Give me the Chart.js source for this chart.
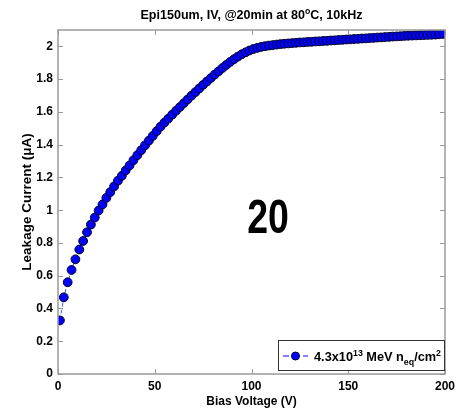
<!DOCTYPE html>
<html>
<head>
<meta charset="utf-8">
<script src="https://cdn.jsdelivr.net/npm/chart.js@4/dist/chart.umd.min.js"></script>
<style>
html,body{margin:0;padding:0;background:#fff;}
#wrap{width:465px;height:411px;position:relative;}
</style>
</head>
<body>
<div id="wrap"><canvas id="c" width="465" height="411"></canvas></div>
<script>
// ---- data ----
const biasVoltage = [
  1,3,5,7,9,11,13,15,17,19,21,23,25,27,29,31,33,35,37,39,
  41,43,45,47,49,51,53,55,57,59,61,63,65,67,69,71,73,75,77,79,
  81,83,85,87,89,91,93,95,97,99,101,103,105,107,109,111,113,115,117,119,
  121,123,125,127,129,131,133,135,137,139,141,143,145,147,149,151,153,155,157,159,
  161,163,165,167,169,171,173,175,177,179,181,183,185,187,189,191,193,195,197,199
];
const leakageCurrent = [
  0.327,0.468,0.560,0.635,0.700,0.760,0.812,0.865,0.912,0.955,0.998,1.035,1.075,1.110,1.145,1.180,1.210,1.243,1.273,1.305,
  1.336,1.366,1.396,1.425,1.454,1.482,1.510,1.535,1.559,1.583,1.607,1.630,1.653,1.676,1.699,1.721,1.743,1.765,1.786,1.807,
  1.828,1.848,1.868,1.887,1.905,1.922,1.938,1.952,1.964,1.975,1.984,1.991,1.997,2.001,2.005,2.008,2.011,2.014,2.016,2.018,
  2.020,2.022,2.024,2.025,2.027,2.028,2.030,2.031,2.033,2.034,2.036,2.037,2.039,2.040,2.042,2.043,2.045,2.046,2.048,2.049,
  2.051,2.052,2.054,2.055,2.057,2.058,2.060,2.061,2.062,2.064,2.065,2.066,2.067,2.068,2.069,2.070,2.071,2.072,2.074,2.076
];
const xTicks = [0,50,100,150,200];
const yTicks = [0,0.2,0.4,0.6,0.8,1,1.2,1.4,1.6,1.8,2];
const chartTitle = ['Epi150um, IV, @20min at 80', 'o', 'C, 10kHz'];
const seriesLabel = '4.3x10^13 MeV n_eq/cm^2';
const annotationText = '20';
const xTitle = 'Bias Voltage (V)';
const yTitle = 'Leakage Current (\u03BCA)';

const FONT = '"Liberation Sans", Arial, sans-serif';
const AXIS_GRAY = '#9a9a9a';

const points = biasVoltage.map((v,i)=>({x:v,y:leakageCurrent[i]}));

// parse label with ^ (sup) and _ (sub)
function parseRich(s){
  const parts=[]; const re=/([\^_])([^\s\/]+)/g; let last=0,m;
  while((m=re.exec(s))){ if(m.index>last) parts.push({t:s.slice(last,m.index),k:'n'}); parts.push({t:m[2],k:m[1]==='^'?'sup':'sub'}); last=re.lastIndex; }
  if(last<s.length) parts.push({t:s.slice(last),k:'n'});
  return parts;
}
function drawRich(ctx, parts, x, y, size){
  ctx.textBaseline='alphabetic'; ctx.textAlign='left';
  let cx=x;
  for(const p of parts){
    let fs=size, dy=0;
    if(p.k==='sup'){fs=Math.round(size*0.72); dy=-size*0.42;}
    if(p.k==='sub'){fs=Math.round(size*0.72); dy=size*0.3;}
    ctx.font='bold '+fs+'px '+FONT;
    ctx.fillText(p.t,cx,y+dy);
    cx+=ctx.measureText(p.t).width;
  }
  return cx-x;
}
function measureRich(ctx, parts, size){
  let w=0;
  for(const p of parts){ const fs=p.k==='n'?size:Math.round(size*0.72); ctx.font='bold '+fs+'px '+FONT; w+=ctx.measureText(p.t).width; }
  return w;
}

const decor = {
  id:'decor',
  afterDraw(chart){
    const ctx=chart.ctx; const a=chart.chartArea;
    const xs=chart.scales.x, ys=chart.scales.y;
    ctx.save();
    // box
    ctx.strokeStyle=AXIS_GRAY; ctx.lineWidth=1.5;
    ctx.strokeRect(a.left, a.top, a.right-a.left, a.bottom-a.top);
    // inward ticks
    ctx.lineWidth=1;
    const tl=5;
    xTicks.forEach(v=>{ const px=Math.round(xs.getPixelForValue(v))+0.5;
      ctx.beginPath(); ctx.moveTo(px,a.bottom); ctx.lineTo(px,a.bottom-tl); ctx.moveTo(px,a.top); ctx.lineTo(px,a.top+tl); ctx.stroke(); });
    yTicks.forEach(v=>{ const py=Math.round(ys.getPixelForValue(v))+0.5;
      ctx.beginPath(); ctx.moveTo(a.left,py); ctx.lineTo(a.left+tl,py); ctx.moveTo(a.right,py); ctx.lineTo(a.right-tl,py); ctx.stroke(); });
    // title
    ctx.fillStyle='#000';
    const ts=13;
    const tparts=[{t:chartTitle[0],k:'n'},{t:chartTitle[1],k:'sup'},{t:chartTitle[2],k:'n'}];
    ctx.save();
    const tw=measureRich(ctx,tparts,ts);
    const cxTitle=(a.left+a.right)/2;
    const sx=222/tw;
    ctx.translate(cxTitle - tw*sx/2, 19); ctx.scale(sx,1);
    drawRich(ctx,tparts,0,0,ts);
    ctx.restore();
    // annotation
    ctx.save();
    ctx.font='bold 48px '+FONT; ctx.textAlign='center'; ctx.textBaseline='alphabetic';
    ctx.translate(xs.getPixelForValue(108.5), ys.getPixelForValue(0.862));
    ctx.scale(0.78,1);
    ctx.fillText(annotationText, 0, 0);
    ctx.restore();
    // legend
    const lx0=278, ly0=340, lx1=a.right, ly1=371;
    ctx.fillStyle='#fff'; ctx.fillRect(lx0,ly0,lx1-lx0,ly1-ly0);
    ctx.strokeStyle='#333'; ctx.lineWidth=1; ctx.strokeRect(lx0+0.5,ly0+0.5,lx1-lx0-1,ly1-ly0-1);
    const ly=356;
    ctx.strokeStyle='#0000ff'; ctx.lineWidth=1.2; ctx.setLineDash([6,4]);
    ctx.beginPath(); ctx.moveTo(283,ly); ctx.lineTo(308,ly); ctx.stroke(); ctx.setLineDash([]);
    ctx.beginPath(); ctx.arc(295.5,ly,4,0,Math.PI*2); ctx.fillStyle='#0000ff'; ctx.fill(); ctx.strokeStyle='#000033'; ctx.lineWidth=1; ctx.stroke();
    ctx.fillStyle='#000';
    ctx.save();
    const lparts=parseRich(seriesLabel);
    const lw=measureRich(ctx,lparts,13);
    ctx.translate(314, 361); ctx.scale(127/lw,1);
    drawRich(ctx,lparts,0,0,13);
    ctx.restore();
    ctx.restore();
  }
};

new Chart(document.getElementById('c'), {
  type:'line',
  data:{ datasets:[{
    label:seriesLabel, data:points,
    borderColor:'#3a5cff', borderWidth:1, borderDash:[4,3],
    backgroundColor:'#0000ff', pointBackgroundColor:'#0000ff',
    pointBorderColor:'#000022', pointBorderWidth:1, pointRadius:4.4,
    tension:0, fill:false
  }]},
  options:{
    responsive:false, animation:false,
    layout:{padding:{top:30,right:20,left:0,bottom:0}},
    plugins:{legend:{display:false}, title:{display:false}, tooltip:{enabled:false}},
    scales:{
      x:{ type:'linear', min:0, max:200,
        afterBuildTicks(s){ s.ticks=xTicks.map(v=>({value:v})); },
        afterFit(s){ s.height=37; },
        grid:{display:false, drawTicks:false}, border:{display:false},
        ticks:{ padding:5, color:'#000', font:{family:FONT, size:12, weight:'bold'}, maxRotation:0, callback:v=>String(v)},
        title:{display:true, text:xTitle, color:'#000', font:{family:FONT,size:12,weight:'bold'}, padding:{top:0,bottom:2}}
      },
      y:{ type:'linear', min:0, max:2.1,
        afterBuildTicks(s){ s.ticks=yTicks.map(v=>({value:v})); },
        afterFit(s){ s.width=58; },
        grid:{display:false, drawTicks:false}, border:{display:false},
        ticks:{ padding:5, color:'#000', font:{family:FONT, size:12, weight:'bold'}, callback:v=>String(Math.round(v*10)/10)},
        title:{display:true, text:yTitle, color:'#000', font:{family:FONT,size:13.5,weight:'bold'}, padding:{top:19,bottom:0}}
      }
    }
  },
  plugins:[decor]
});
</script>
</body>
</html>
